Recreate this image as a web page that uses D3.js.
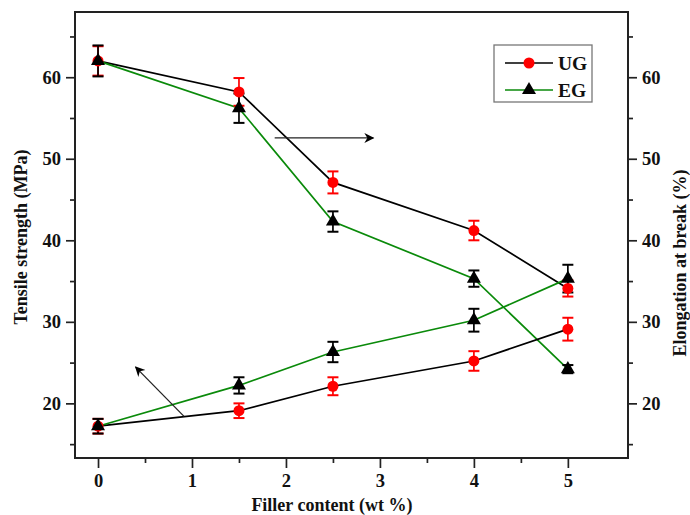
<!DOCTYPE html>
<html>
<head>
<meta charset="utf-8">
<script src="https://cdn.jsdelivr.net/npm/d3@7"></script>
<style>
  html, body { margin: 0; padding: 0; background: #fff; }
  svg { display: block; }
  text { font-family: "Liberation Serif", "Times New Roman", serif; font-weight: bold; fill: #111; }
</style>
</head>
<body>
<div id="chart"></div>
<script>
const filler = [0, 1.5, 2.5, 4, 5];
const ugTensile = [62, 58.2, 47.1, 41.2, 34.1];
const ugTensileErr = [1.8, 1.7, 1.35, 1.2, 1.0];
const egTensile = [62, 56.2, 42.3, 35.3, 24.2];
const egTensileErr = [1.9, 1.8, 1.25, 1.0, 0.5];
const ugElong = [17.2, 19.1, 22.1, 25.2, 29.1];
const ugElongErr = [0.9, 0.9, 1.1, 1.2, 1.4];
const egElong = [17.2, 22.2, 26.3, 30.2, 35.3];
const egElongErr = [0.9, 1.0, 1.25, 1.4, 1.7];

const xMajorTicks = [0, 1, 2, 3, 4, 5];
const xMinorTicks = [0.5, 1.5, 2.5, 3.5, 4.5];
const yMajorTicks = [20, 30, 40, 50, 60];
const yMinorTicks = [15, 25, 35, 45, 55, 65];

const legendNames = ['UG', 'EG'];

// Annotation arrows in data units: [x1, y1, x2, y2] (tail -> head).
const arrowTensile = [0.915, 18.4, 0.40, 24.45];
const arrowElong = [1.88, 52.55, 2.93, 52.55];

const width = 690, height = 515;
const margin = { top: 12, right: 62, bottom: 57, left: 75 };
const plotW = width - margin.left - margin.right;
const plotH = height - margin.top - margin.bottom;

const x = d3.scaleLinear().domain([-0.245, 5.64]).range([0, plotW]);
const y = d3.scaleLinear().domain([13.3, 68]).range([plotH, 0]);
// right axis shares the same range
const y2 = d3.scaleLinear().domain([13.3, 68]).range([plotH, 0]);

const svg = d3.select('#chart').append('svg')
  .attr('width', width)
  .attr('height', height);

const defs = svg.append('defs');
defs.append('marker')
  .attr('id', 'arrowHead')
  .attr('viewBox', '0 0 10 10')
  .attr('refX', 9).attr('refY', 5)
  .attr('markerWidth', 14).attr('markerHeight', 10)
  .attr('markerUnits', 'userSpaceOnUse')
  .attr('orient', 'auto')
  .append('path')
  .attr('d', 'M0,0 L10,5 L0,10 L3,5 Z')
  .attr('fill', '#000');

const g = svg.append('g').attr('transform', `translate(${margin.left},${margin.top})`);

// Axes: major + minor ticks, no domain path (frame drawn separately).
function styleAxis(sel) {
  sel.select('.domain').remove();
  sel.selectAll('line').attr('stroke', '#222').attr('stroke-width', 1.7);
  sel.selectAll('text').attr('font-size', 18.5).attr('fill', '#111');
}

g.append('g')
  .attr('transform', `translate(0,${plotH})`)
  .call(d3.axisBottom(x).tickValues(xMajorTicks).tickSize(10).tickPadding(6).tickFormat(d3.format('d')))
  .call(styleAxis);
g.append('g')
  .attr('transform', `translate(0,${plotH})`)
  .call(d3.axisBottom(x).tickValues(xMinorTicks).tickSize(5).tickFormat(''))
  .call(styleAxis);

g.append('g')
  .call(d3.axisLeft(y).tickValues(yMajorTicks).tickSize(9).tickPadding(5))
  .call(styleAxis);
g.append('g')
  .call(d3.axisLeft(y).tickValues(yMinorTicks).tickSize(5).tickFormat(''))
  .call(styleAxis);

g.append('g')
  .attr('transform', `translate(${plotW},0)`)
  .call(d3.axisRight(y2).tickValues(yMajorTicks).tickSize(9).tickPadding(5))
  .call(styleAxis);
g.append('g')
  .attr('transform', `translate(${plotW},0)`)
  .call(d3.axisRight(y2).tickValues(yMinorTicks).tickSize(5).tickFormat(''))
  .call(styleAxis);

g.append('rect')
  .attr('width', plotW).attr('height', plotH)
  .attr('fill', 'none')
  .attr('stroke', '#222')
  .attr('stroke-width', 2);

// Axis titles
svg.append('text')
  .attr('x', margin.left + x(2.5) - 1)
  .attr('y', 511)
  .attr('text-anchor', 'middle')
  .attr('font-size', 18)
  .text('Filler content (wt %)');

svg.append('text')
  .attr('transform', 'translate(27,237) rotate(-90)')
  .attr('text-anchor', 'middle')
  .attr('font-size', 18)
  .text('Tensile strength (MPa)');

svg.append('text')
  .attr('transform', 'translate(686,263) rotate(-90)')
  .attr('text-anchor', 'middle')
  .attr('font-size', 18)
  .text('Elongation at break (%)');

// Series definitions
const series = [
  { vals: ugTensile, err: ugTensileErr, line: '#000', mark: 'circle', scale: y },
  { vals: egTensile, err: egTensileErr, line: '#0a8a0a', mark: 'triangle', scale: y },
  { vals: ugElong, err: ugElongErr, line: '#000', mark: 'circle', scale: y2 },
  { vals: egElong, err: egElongErr, line: '#0a8a0a', mark: 'triangle', scale: y2 },
];

const markColor = mark => mark === 'circle' ? '#ff0000' : '#000';
const triPath = d3.symbol().type(d3.symbolTriangle).size(85);

const plot = g.append('g');

// Lines
series.forEach(s => {
  const pts = filler.map((f, i) => [f, s.vals[i]]);
  plot.append('path')
    .datum(pts)
    .attr('fill', 'none')
    .attr('stroke', s.line)
    .attr('stroke-width', 1.7)
    .attr('d', d3.line().x(d => x(d[0])).y(d => s.scale(d[1])));
});

// Error bars
series.forEach(s => {
  const col = markColor(s.mark);
  const eb = plot.append('g');
  filler.forEach((f, i) => {
    const cx = x(f);
    const top = s.scale(s.vals[i] + s.err[i]);
    const bot = s.scale(s.vals[i] - s.err[i]);
    eb.append('line').attr('x1', cx).attr('x2', cx).attr('y1', top).attr('y2', bot)
      .attr('stroke', col).attr('stroke-width', 1.7);
    [top, bot].forEach(yy => {
      eb.append('line').attr('x1', cx - 5.5).attr('x2', cx + 5.5).attr('y1', yy).attr('y2', yy)
        .attr('stroke', col).attr('stroke-width', 2);
    });
  });
});

// Markers: circles first, triangles on top
['circle', 'triangle'].forEach(kind => {
  series.filter(s => s.mark === kind).forEach(s => {
    filler.forEach((f, i) => {
      if (kind === 'circle') {
        plot.append('circle')
          .attr('cx', x(f)).attr('cy', s.scale(s.vals[i]))
          .attr('r', 5.5).attr('fill', '#ff0000');
      } else {
        plot.append('path')
          .attr('d', triPath)
          .attr('transform', `translate(${x(f)},${s.scale(s.vals[i])})`)
          .attr('fill', '#000');
      }
    });
  });
});

// Annotation arrows
[[arrowTensile, y], [arrowElong, y2]].forEach(([a, sc]) => {
  g.append('line')
    .attr('x1', x(a[0])).attr('y1', sc(a[1]))
    .attr('x2', x(a[2])).attr('y2', sc(a[3]))
    .attr('stroke', '#222')
    .attr('stroke-width', 1.3)
    .attr('marker-end', 'url(#arrowHead)');
});

// Legend
const legend = svg.append('g').attr('transform', 'translate(494,45)');
legend.append('rect')
  .attr('width', 98).attr('height', 57)
  .attr('fill', '#fff')
  .attr('stroke', '#777')
  .attr('stroke-width', 1.3);

legendNames.forEach((name, i) => {
  const s = series[i];
  const row = legend.append('g').attr('transform', `translate(0,${18 + i * 27})`);
  row.append('line')
    .attr('x1', 11).attr('x2', 59).attr('y1', 0).attr('y2', 0)
    .attr('stroke', s.line).attr('stroke-width', 1.7);
  if (s.mark === 'circle') {
    row.append('circle').attr('cx', 35).attr('cy', 0).attr('r', 5.5).attr('fill', '#ff0000');
  } else {
    row.append('path').attr('d', triPath).attr('transform', 'translate(35,0)').attr('fill', '#000');
  }
  row.append('text')
    .attr('x', 64).attr('y', 6.5)
    .attr('font-size', 19.5)
    .text(name);
});
</script>
</body>
</html>
